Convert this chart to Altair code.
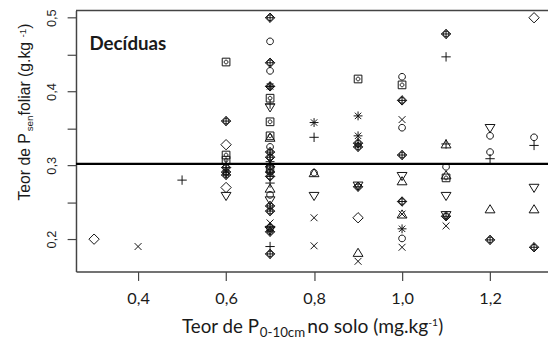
import altair as alt
import pandas as pd

# ---------------- data ----------------
p_solo = [
    0.3, 0.4, 0.5,
    0.6, 0.6, 0.6, 0.6, 0.6, 0.6, 0.6, 0.6, 0.6, 0.6, 0.6,
    0.7, 0.7, 0.7, 0.7, 0.7, 0.7, 0.7, 0.7, 0.7, 0.7, 0.7, 0.7, 0.7, 0.7, 0.7,
    0.7, 0.7, 0.7, 0.7, 0.7, 0.7, 0.7, 0.7, 0.7, 0.7, 0.7, 0.7, 0.7, 0.7, 0.7,
    0.7, 0.7,
    0.8, 0.8, 0.8, 0.8, 0.8, 0.8, 0.8,
    0.9, 0.9, 0.9, 0.9, 0.9, 0.9, 0.9, 0.9, 0.9, 0.9,
    1.0, 1.0, 1.0, 1.0, 1.0, 1.0, 1.0, 1.0, 1.0, 1.0, 1.0, 1.0, 1.0, 1.0,
    1.1, 1.1, 1.1, 1.1, 1.1, 1.1, 1.1, 1.1, 1.1, 1.1, 1.1,
    1.2, 1.2, 1.2, 1.2, 1.2, 1.2,
    1.3, 1.3, 1.3, 1.3, 1.3, 1.3,
]
p_foliar = [
    0.200, 0.190, 0.280,
    0.440, 0.360, 0.328, 0.314, 0.307, 0.302, 0.297, 0.291, 0.287, 0.270, 0.258,
    0.500, 0.468, 0.439, 0.428, 0.407, 0.407, 0.391, 0.383, 0.378, 0.359, 0.340,
    0.338, 0.318, 0.311, 0.305, 0.298, 0.291, 0.285, 0.276, 0.269, 0.260, 0.252,
    0.245, 0.238, 0.222, 0.216, 0.212, 0.210, 0.190, 0.180,
    0.295, 0.325,
    0.358, 0.338, 0.290, 0.290, 0.258, 0.229, 0.191,
    0.417, 0.367, 0.340, 0.330, 0.325, 0.271, 0.272, 0.229, 0.182, 0.170,
    0.420, 0.409, 0.388, 0.362, 0.351, 0.314, 0.285, 0.279, 0.251, 0.234, 0.234,
    0.214, 0.201, 0.189,
    0.478, 0.447, 0.329, 0.329, 0.298, 0.283, 0.287, 0.258, 0.231, 0.232, 0.218,
    0.350, 0.340, 0.318, 0.309, 0.241, 0.199,
    0.500, 0.338, 0.327, 0.269, 0.241, 0.189,
]
simbolo = [
    "losango", "xis", "mais",
    "quadrado_ponto", "losango_mais", "losango", "quadrado_ponto", "quadrado_ponto",
    "mais", "losango_mais", "losango_mais", "losango_mais", "losango", "triangulo_baixo",
    "losango_mais", "circulo", "losango_mais", "circulo", "asterisco", "losango_mais",
    "quadrado_ponto", "mais", "triangulo_baixo", "quadrado_ponto", "quadrado_ponto",
    "triangulo", "losango_mais", "losango_mais", "asterisco", "losango_mais",
    "losango_mais", "losango_mais", "mais", "triangulo", "circulo", "triangulo_baixo",
    "losango_mais", "losango_mais", "xis", "losango_mais", "triangulo_baixo",
    "losango_mais", "mais", "losango_mais",
    "quadrado", "circulo",
    "asterisco", "mais", "triangulo", "circulo", "triangulo_baixo", "xis", "xis",
    "quadrado_ponto", "asterisco", "asterisco", "losango_mais", "losango_mais",
    "losango_mais", "triangulo_baixo", "losango", "triangulo", "xis",
    "circulo", "quadrado_ponto", "losango_mais", "xis", "circulo", "losango_mais",
    "triangulo_baixo", "triangulo", "losango_mais", "triangulo", "xis", "asterisco",
    "circulo", "xis",
    "losango_mais", "mais", "triangulo", "mais", "circulo", "quadrado_ponto",
    "triangulo", "triangulo_baixo", "losango_mais", "triangulo_baixo", "xis",
    "triangulo_baixo", "circulo", "circulo", "mais", "triangulo", "losango_mais",
    "losango", "circulo", "mais", "triangulo_baixo", "triangulo", "losango_mais",
]
media = [0.302]

x_ticks = [0.4, 0.6, 0.8, 1.0, 1.2]
y_ticks = [0.2, 0.25, 0.3, 0.35, 0.4, 0.45, 0.5]

# ---------------- symbol outlines (R pch-like) ----------------
formas = {
    "circulo": "M0.68,0A0.68,0.68,0,1,1,-0.68,0A0.68,0.68,0,1,1,0.68,0Z",
    "quadrado": "M-0.75,-0.75H0.75V0.75H-0.75Z",
    "triangulo": "M0,-0.85L1,0.8L-1,0.8Z",
    "triangulo_baixo": "M0,0.85L1,-0.8L-1,-0.8Z",
    "mais": "M-0.95,0H0.95M0,-0.95V0.95",
    "xis": "M-0.7,-0.7L0.7,0.7M-0.7,0.7L0.7,-0.7",
    "losango": "M0,-1.05L1.05,0L0,1.05L-1.05,0Z",
    "asterisco": "M-0.9,0H0.9M0,-0.9V0.9M-0.65,-0.65L0.65,0.65M-0.65,0.65L0.65,-0.65",
    "losango_mais": "M0,-0.95L0.95,0L0,0.95L-0.95,0ZM0.58,0A0.58,0.58,0,1,1,-0.58,0A0.58,0.58,0,1,1,0.58,0ZM-0.95,0H0.95M0,-0.95V0.95",
    "quadrado_ponto": "M-0.78,-0.78H0.78V0.78H-0.78ZM0.38,0A0.38,0.38,0,1,1,-0.38,0A0.38,0.38,0,1,1,0.38,0Z",
}
nomes = list(formas.keys())

df = pd.DataFrame({"p_solo": p_solo, "p_foliar": p_foliar, "simbolo": simbolo})

W, H = 479, 265
XDOM = [0.2589, 1.3317]
YDOM = [0.1561, 0.5099]
AXC = "#444444"
TXT = "#1a1a1a"

pontos = alt.Chart(df).mark_point(
    filled=False, size=100, strokeWidth=1, color="#111111", opacity=1
).encode(
    x=alt.X("p_solo:Q",
            scale=alt.Scale(domain=XDOM, nice=False, zero=False),
            axis=alt.Axis(values=x_ticks, title=None, grid=False,
                          labelExpr="replace(format(datum.value, '.1f'), '.', ',')",
                          labelFont="Lato", labelFontSize=16.5, labelColor=TXT,
                          labelBaseline="alphabetic", labelPadding=23.5,
                          labelFlush=False, labelOverlap=False,
                          tickSize=9, tickColor=AXC, tickWidth=1.2,
                          domainColor=AXC, domainWidth=1.5)),
    y=alt.Y("p_foliar:Q",
            scale=alt.Scale(domain=YDOM, nice=False, zero=False),
            axis=alt.Axis(values=y_ticks, title=None, grid=False,
                          labelExpr="abs(datum.value*10 - round(datum.value*10)) < 0.01 ? replace(format(datum.value, '.1f'), '.', ',') : ''",
                          labelFont="Liberation Sans", labelFontSize=13, labelColor=TXT,
                          labelAngle=270, labelAlign="center", labelBaseline="alphabetic",
                          labelPadding=12, labelFlush=False, labelOverlap=False,
                          tickSize=9, tickColor=AXC, tickWidth=1.2,
                          domainColor=AXC, domainWidth=1.5)),
    shape=alt.Shape("simbolo:N", scale=alt.Scale(domain=nomes, range=[formas[n] for n in nomes]),
                    legend=None),
)

linha_media = alt.Chart(pd.DataFrame({"media": media})).mark_rule(
    color="black", strokeWidth=2.2
).encode(y="media:Q")

borda_topo = alt.Chart(alt.Data(values=[{}])).mark_rule(
    color=AXC, strokeWidth=1.5
).encode(x=alt.value(0), x2=alt.value(W), y=alt.value(0))


def texto(s, x, y, size, font, angle=0, weight="normal", align="left"):
    kw = dict(text=s, font=font, fontSize=size, fontWeight=weight, color=TXT,
              align=align, baseline="alphabetic")
    if angle:
        kw["angle"] = angle
    return alt.Chart(alt.Data(values=[{}])).mark_text(**kw).encode(
        x=alt.value(x), y=alt.value(y))


# y title (rotated), window coords minus plot origin (77, 8)
YF = "Liberation Sans"
ytit = [
    texto("Teor de P", -46.5, 193, 16, YF, angle=270),
    texto("sen", -43.5, 122.7, 10, YF, angle=270),
    texto(" foliar (g.kg", -46.5, 106.6, 16, YF, angle=270),
    texto("-1", -51, 27.5, 10, YF, angle=270),
    texto(")", -46.5, 18.6, 16, YF, angle=270),
]

# x title
XF = "Lato"
xtit = [
    texto("Teor de P", 185.7, 327, 19, XF, align="right"),
    texto("0-10cm", 186.5, 331.5, 13.5, XF),
    texto("no solo (mg.kg", 234.7, 327, 19.5, XF),
    texto("-1", 357.5, 320, 10.5, XF),
    texto(")", 367.5, 327, 19, XF),
]

rotulo = texto("Decíduas", 13.7, 40.3, 19, XF, weight="bold")

chart = alt.layer(
    pontos, linha_media, borda_topo, rotulo, *ytit, *xtit
).properties(
    width=W, height=H,
    autosize=alt.AutoSizeParams(type="none"),
    padding={"left": 69, "top": 0, "right": 0, "bottom": 68},
).configure_view(stroke=None)

chart.save("out.html", embed_options={"renderer": "svg", "actions": False})
